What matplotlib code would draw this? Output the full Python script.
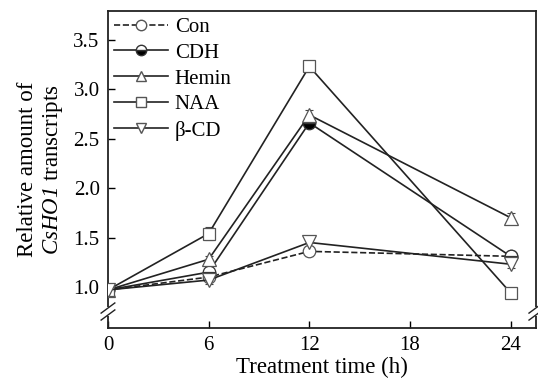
import matplotlib
matplotlib.use("Agg")
import matplotlib.pyplot as plt
from matplotlib.lines import Line2D

plt.rcParams['font.family'] = ['Liberation Serif', 'DejaVu Serif']
plt.rcParams['mathtext.fontset'] = 'custom'
plt.rcParams['mathtext.rm'] = 'Liberation Serif:italic'
plt.rcParams['mathtext.it'] = 'Liberation Serif:italic'

time = [0, 6, 12, 24]
con = [0.97, 1.10, 1.36, 1.31]
cdh = [0.97, 1.15, 2.66, 1.31]
hemin = [0.97, 1.28, 2.74, 1.70]
naa = [0.97, 1.54, 3.23, 0.94]
bcd = [0.97, 1.07, 1.45, 1.23]
con_err = [0.02, 0.03, 0.05, 0.04]
cdh_err = [0.02, 0.03, 0.05, 0.04]
hemin_err = [0.02, 0.03, 0.05, 0.05]
naa_err = [0.02, 0.07, 0.06, 0.04]
bcd_err = [0.02, 0.04, 0.07, 0.04]
labels = ['Con', 'CDH', 'Hemin', 'NAA', 'β-CD']
xticks = [0, 6, 12, 18, 24]
yticks = [1.0, 1.5, 2.0, 2.5, 3.0, 3.5]

fig = plt.figure(figsize=(5.38, 3.83), dpi=100)
ax = fig.add_axes([0.2007, 0.1436, 0.7953, 0.8274])

series = [
    (con, con_err, 'o', '--', 'full', 9),
    (cdh, cdh_err, 'o', '-', 'bottom', 9),
    (hemin, hemin_err, '^', '-', 'full', 10),
    (naa, naa_err, 's', '-', 'full', 8.5),
    (bcd, bcd_err, 'v', '-', 'full', 10),
]
handles = []
for (vals, err, mk, ls, fs, ms), lab in zip(series, labels):
    ax.errorbar(time, vals, yerr=err, fmt='none', ecolor='#444444',
                elinewidth=0.8, capsize=3, capthick=0.8, zorder=2)
    if fs == 'bottom':
        ax.plot(time, vals, linestyle=ls, color='#222222', lw=1.2,
                marker=mk, markersize=ms, fillstyle='bottom',
                markerfacecolor='black', markerfacecoloralt='white',
                markeredgecolor='#333333', markeredgewidth=0.9, zorder=3)
        h = Line2D([], [], linestyle=ls, color='#222222', lw=1.2, marker=mk,
                   markersize=7.5, fillstyle='bottom', markerfacecolor='black',
                   markerfacecoloralt='white', markeredgecolor='#333333')
    else:
        ax.plot(time, vals, linestyle=ls, color='#222222', lw=1.2,
                marker=mk, markersize=ms, markerfacecolor='white',
                markeredgecolor='#555555', markeredgewidth=0.9, zorder=3)
        h = Line2D([], [], linestyle=ls, color='#222222', lw=1.2, marker=mk,
                   markersize=7.5, markerfacecolor='white',
                   markeredgecolor='#555555')
    handles.append(h)

ax.set_xlim(0, 25.5)
ax.set_ylim(0.585, 3.79)
ax.set_xticks(xticks)
ax.set_yticks(yticks)
ax.set_yticklabels([f'{v:.1f}' for v in yticks])
ax.tick_params(direction='in', length=5, width=1, labelsize=15, pad=6)
for s in ax.spines.values():
    s.set_linewidth(1.3)
    s.set_color('#222222')

ax.set_xlabel('Treatment time (h)', fontsize=16.5, labelpad=1)
ax.set_ylabel('Relative amount of\n$\\mathit{CsHO1}$ transcripts', fontsize=16.5,
              linespacing=1.2, labelpad=6)

leg = ax.legend(handles, labels, loc='upper left', frameon=False, fontsize=15,
                handlelength=2.6, handletextpad=0.3, labelspacing=0.3,
                borderaxespad=0.1, borderpad=0.2)

# axis breaks
yb = 0.052
for xa in (0.0, 1.0):
    ax.plot([xa, xa], [yb - 0.014, yb + 0.014], transform=ax.transAxes,
            color='white', lw=3, clip_on=False, zorder=5, solid_capstyle='butt')
    for dy in (-0.011, 0.011):
        ax.plot([xa - 0.016, xa + 0.016], [yb + dy - 0.016, yb + dy + 0.016],
                transform=ax.transAxes, color='#222222', lw=1.0,
                clip_on=False, zorder=6)

fig.savefig('out.png', dpi=100)
